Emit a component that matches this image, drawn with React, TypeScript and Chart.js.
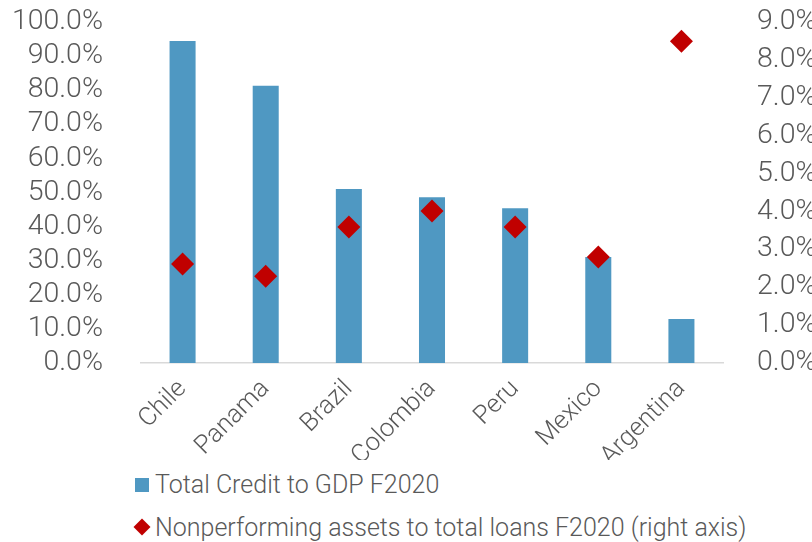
import React, { useEffect, useRef } from "react";
import { Chart, registerables } from "chart.js";

Chart.register(...registerables);

const categories = ["Chile", "Panama", "Brazil", "Colombia", "Peru", "Mexico", "Argentina"];
const creditToGdp = [94.4, 81.3, 51.0, 48.6, 45.4, 31.1, 12.9];
const npaToLoans = [2.61, 2.29, 3.59, 4.01, 3.59, 2.8, 8.49];
const creditLabel = "Total Credit to GDP F2020";
const npaLabel = "Nonperforming assets to total loans F2020 (right axis)";

const BAR_COLOR = "#4F98C2";
const DIAMOND_COLOR = "#C00000";
const TEXT_COLOR = "#595959";
const FONT = "Roboto";
const WEIGHT = 300;

export default function App() {
  const canvasRef = useRef<HTMLCanvasElement>(null);

  useEffect(() => {
    if (!canvasRef.current) return;
    const fixY = (w: number) => (s: any) => {
      s.width = w;
      s.paddingTop = 0;
      s.paddingBottom = 0;
    };
    const chart = new Chart(canvasRef.current, {
      type: "bar",
      data: {
        labels: categories,
        datasets: [
          {
            type: "line",
            label: npaLabel,
            data: npaToLoans,
            yAxisID: "y1",
            showLine: false,
            pointStyle: "rectRot",
            pointRadius: 11.5,
            pointBackgroundColor: DIAMOND_COLOR,
            pointBorderColor: DIAMOND_COLOR,
            pointBorderWidth: 0,
            order: 0,
          } as any,
          {
            type: "bar",
            label: creditLabel,
            data: creditToGdp,
            yAxisID: "y",
            backgroundColor: BAR_COLOR,
            categoryPercentage: 1,
            barPercentage: 0.313,
            order: 1,
          },
        ],
      },
      options: {
        responsive: false,
        animation: false,
        layout: { padding: { top: 22, left: 0, right: 0, bottom: 0 } },
        plugins: {
          legend: { display: false },
          tooltip: { enabled: false },
        },
        scales: {
          x: {
            position: "bottom",
            grid: { display: false },
            border: { display: true, color: "#D9D9D9", width: 1.5 },
            ticks: {
              color: TEXT_COLOR,
              font: { family: FONT, size: 25.5, weight: WEIGHT as any },
              minRotation: 45,
              maxRotation: 45,
              autoSkip: false,
              padding: 3,
            },
            afterFit: (s: any) => {
              s.height = 97;
            },
          },
          y: {
            position: "left",
            min: 0,
            max: 100,
            grid: { display: false },
            border: { display: false },
            ticks: {
              stepSize: 10,
              autoSkip: false,
              color: TEXT_COLOR,
              font: { family: FONT, size: 28.5, weight: WEIGHT as any },
              padding: 30,
              callback: (v: any) => Number(v).toFixed(1) + "%",
            },
            afterFit: fixY(141),
          },
          y1: {
            position: "right",
            min: 0,
            max: 9,
            grid: { display: false },
            border: { display: false },
            ticks: {
              stepSize: 1,
              autoSkip: false,
              color: TEXT_COLOR,
              font: { family: FONT, size: 28.5, weight: WEIGHT as any },
              padding: 26,
              callback: (v: any) => Number(v).toFixed(1) + "%",
            },
            afterFit: fixY(89),
          },
        },
      },
    });
    return () => chart.destroy();
  }, []);

  const textStyle: React.CSSProperties = {
    position: "absolute",
    left: 155,
    height: 28,
    lineHeight: "28px",
    fontFamily: FONT,
    fontWeight: WEIGHT,
    fontSize: 25,
    color: TEXT_COLOR,
    whiteSpace: "nowrap",
  };

  return (
    <div style={{ position: "absolute", left: 0, top: 0, width: 812, height: 542, background: "#fff" }}>
      <canvas ref={canvasRef} width={812} height={460} style={{ display: "block" }} />
      <div style={{ position: "absolute", left: 135, top: 478, width: 14, height: 14, background: BAR_COLOR }} />
      <div style={{ ...textStyle, top: 471 }}>{creditLabel}</div>
      <div
        style={{
          position: "absolute",
          left: 136,
          top: 521,
          width: 12,
          height: 12,
          background: DIAMOND_COLOR,
          transform: "rotate(45deg)",
        }}
      />
      <div style={{ ...textStyle, top: 514 }}>{npaLabel}</div>
    </div>
  );
}
